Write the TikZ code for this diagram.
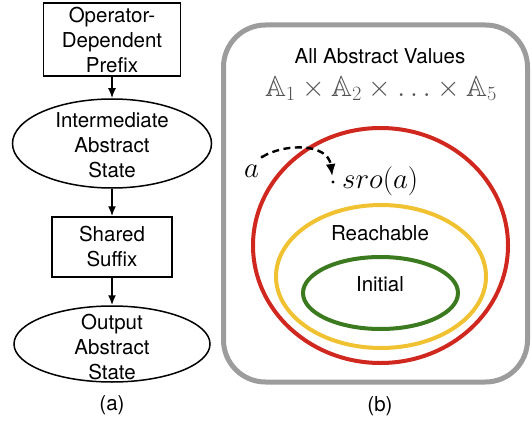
\RequirePackage{fix-cm}
\documentclass[tikz,border=0pt]{standalone}
\usepackage{amssymb}
\usepackage{fontspec}
\setmainfont{TeX Gyre Heros}
\usetikzlibrary{shapes.geometric,arrows.meta}

\definecolor{framegray}{HTML}{9C9C9C}
\definecolor{setred}{HTML}{D0281E}
\definecolor{setyellow}{HTML}{F0C232}
\definecolor{setgreen}{HTML}{3B7A1E}

\begin{document}
\begin{tikzpicture}[x=1pt, y=-1pt,
    txt/.style={font=\fontsize{20.5}{25}\selectfont, align=center, inner sep=0pt},
    mathtxt/.style={font=\fontsize{29}{32}\selectfont, inner sep=0pt},
    stage/.style={txt, rectangle, draw, line width=1.5pt},
    state/.style={ellipse, draw, line width=1.5pt, inner sep=0pt},
    flowarr/.style={-{Latex[length=10pt,width=8pt]}, line width=1.8pt},
    setell/.style={ellipse, line width=4pt, inner sep=0pt},
    dasharr/.style={dash pattern=on 7pt off 4.5pt, line width=2.4pt,
        -{Latex[length=12pt,width=10pt]}, shorten >=6pt},
]
\useasboundingbox (0,0) rectangle (532,422);

% (a) pipeline
\node[stage, minimum width=137pt, minimum height=73pt] (prefix) at (112,39.5)
    {Operator-\\Dependent\\Prefix};
\node[state, minimum width=199pt, minimum height=89pt] (inter) at (112,143.5) {};
\node[txt] (intertext) at (112,145) {Intermediate\\Abstract\\State};
\node[stage, minimum width=120pt, minimum height=60pt] (suffix) at (112,247)
    {Shared\\Suffix};
\node[state, minimum width=196pt, minimum height=76pt] (output) at (112,344) {};
\node[txt] (outputtext) at (112,347) {Output\\Abstract\\State};

\draw[flowarr] (prefix) -- (inter);
\draw[flowarr] (inter) -- (suffix);
\draw[flowarr] (suffix) -- (output);

\node[txt] (lbla) at (112,405) {(a)};

% (b) abstract values
\node[draw=framegray, line width=5pt, rounded corners=42pt,
      minimum width=304pt, minimum height=357pt] (allbox) at (375.5,203.5) {};
\node[txt] (allvals) at (380,56.5) {All Abstract Values};
\node[mathtxt, text=black!68] (prodline) at (381,88.5)
    {$\mathbb{A}_1\times\mathbb{A}_2\times\ldots\times\mathbb{A}_5$};

\node[setell, draw=setred, minimum width=255pt, minimum height=235pt] (anyset) at (380.5,245.5) {};
\node[setell, draw=setyellow, minimum width=210pt, minimum height=143pt] (reachset) at (381,276.5) {};
\node[setell, draw=setgreen, minimum width=155pt, minimum height=72pt] (initset) at (380.5,293) {};
\node[txt] (reachlbl) at (380,233) {Reachable};
\node[txt] (initlbl) at (380,284) {Initial};

% sro step
\coordinate (adot) at (262,157);
\coordinate (sdot) at (333,182);
\fill (adot) circle (1.7pt);
\fill (sdot) circle (1.7pt);
\node[mathtxt] (avar) at (251.5,171) {$a$};
\node[mathtxt, anchor=west] (sroa) at (342,181) {$sro(a)$};
\draw[dasharr] (adot) .. controls (285,143) and (328,143) .. (sdot);

\node[txt] (lblb) at (380,406) {(b)};

\end{tikzpicture}
\end{document}
